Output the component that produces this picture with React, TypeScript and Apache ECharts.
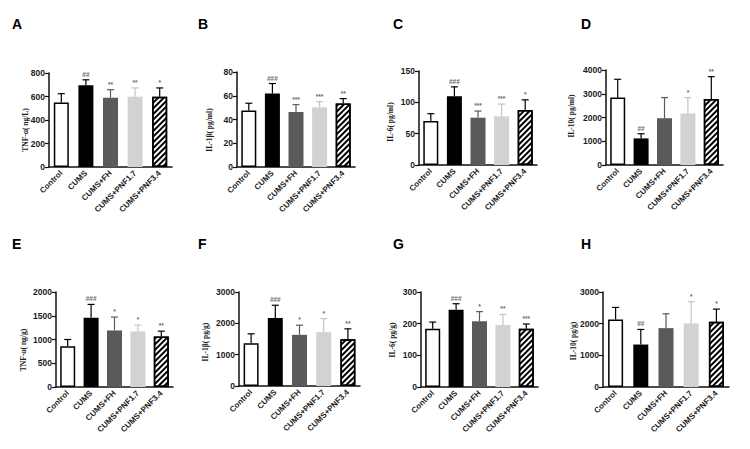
import React, { useEffect, useRef } from "react";
import * as echarts from "echarts";

const categories = ["Control", "CUMS", "CUMS+FH", "CUMS+PNF1.7", "CUMS+PNF3.4"];

const panelLetters = ["A", "B", "C", "D", "E", "F", "G", "H"];
const axisNames = [
  "TNF-α( ng/L)",
  "IL-1β( pg/ml)",
  "IL-6( pg/ml)",
  "IL-10( pg/ml)",
  "TNF-α( ng/g)",
  "IL-1β( pg/g)",
  "IL-6( pg/g)",
  "IL-10( pg/g)",
];
const axisMax = [800, 80, 150, 4000, 2000, 3000, 300, 3000];
const axisStep = [200, 20, 50, 1000, 500, 1000, 100, 1000];

const meanA = [548, 695, 590, 598, 598];
const sdA = [76, 47, 68, 75, 75];
const sigA = ["", "##", "**", "**", "*"];

const meanB = [47.5, 62, 46.3, 50.3, 53.4];
const sdB = [6.2, 8.3, 6.2, 4.7, 4.2];
const sigB = ["", "###", "***", "***", "**"];

const meanC = [70.3, 109.9, 75.5, 77.7, 87.7];
const sdC = [11.6, 14.8, 10.6, 19.5, 16.3];
const sigC = ["", "###", "***", "***", "*"];

const meanD = [2840, 1120, 1970, 2170, 2780];
const sdD = [770, 195, 870, 670, 940];
const sigD = ["", "##", "", "*", "**"];

const meanE = [860, 1458, 1190, 1169, 1063];
const sdE = [140, 281, 282, 134, 113];
const sigE = ["", "###", "*", "*", "**"];

const meanF = [1368, 2174, 1633, 1718, 1495];
const sdF = [297, 403, 308, 435, 329];
const sigF = ["", "###", "*", "*", "**"];

const meanG = [184, 244, 208, 196, 184];
const sdG = [21, 19, 30, 33, 15];
const sigG = ["", "###", "*", "**", "***"];

const meanH = [2133, 1341, 1859, 2007, 2059];
const sdH = [380, 476, 454, 686, 401];
const sigH = ["", "##", "", "*", "*"];

const means = [meanA, meanB, meanC, meanD, meanE, meanF, meanG, meanH];
const sds = [sdA, sdB, sdC, sdD, sdE, sdF, sdG, sdH];
const sigs = [sigA, sigB, sigC, sigD, sigE, sigF, sigG, sigH];

// layout: [left, top, width, height]
const grids = [
  [49, 73, 123, 94],
  [237, 72, 118, 95],
  [419, 71, 118, 94],
  [606, 70, 117, 95],
  [56, 292, 117, 95],
  [239, 292, 121, 94],
  [421, 292, 117, 95],
  [603, 292, 126, 95],
];
// centres of the rotated y-axis titles
const namePos = [
  [25, 130],
  [209, 130],
  [390, 122],
  [571, 116],
  [23, 350],
  [205, 342],
  [392, 340],
  [573, 341],
];
const letterPos = [
  [12, 24],
  [198, 24],
  [393, 24],
  [581, 24],
  [12, 244],
  [198, 244],
  [393, 244],
  [581, 244],
];

const fillColors = ["#ffffff", "#000000", "#5a5a5a", "#d2d2d2", "#ffffff"];
const errColors = ["#000000", "#000000", "#5a5a5a", "#c4c4c4", "#000000"];

export default function App() {
  const ref = useRef<HTMLDivElement>(null);

  useEffect(() => {
    if (!ref.current) return;
    const chart = echarts.init(ref.current, null, { renderer: "svg" });

    const grid: any[] = [];
    const xAxis: any[] = [];
    const yAxis: any[] = [];
    const series: any[] = [];

    grids.forEach((g, i) => {
      grid.push({ left: g[0], top: g[1], width: g[2], height: g[3], containLabel: false });
      xAxis.push({
        type: "category",
        gridIndex: i,
        data: categories,
        boundaryGap: true,
        axisLine: { lineStyle: { color: "#111", width: 1.5 } },
        axisTick: { alignWithLabel: true, length: 3, lineStyle: { color: "#111", width: 1.2 } },
        axisLabel: {
          rotate: 45,
          interval: 0,
          margin: 5,
          fontSize: 8,
          fontWeight: "bold",
          fontFamily: "Liberation Sans, Arial, sans-serif",
          color: "#1a1a1a",
        },
      });
      yAxis.push({
        type: "value",
        gridIndex: i,
        min: 0,
        max: axisMax[i],
        interval: axisStep[i],
        splitLine: { show: false },
        axisLine: { show: true, lineStyle: { color: "#111", width: 1.5 } },
        axisTick: { show: true, length: 4, lineStyle: { color: "#111", width: 1.2 } },
        axisLabel: {
          fontSize: 8.5,
          fontWeight: "bold",
          fontFamily: "Liberation Sans, Arial, sans-serif",
          color: "#1a1a1a",
          margin: 4,
          formatter: (v: number) => String(v),
        },
      });

      const mean = means[i];
      const sd = sds[i];
      const sig = sigs[i];

      series.push({
        type: "bar",
        xAxisIndex: i,
        yAxisIndex: i,
        barWidth: 15,
        z: 2,
        data: mean.map((v, k) => {
          const item: any = {
            value: v,
            itemStyle: {
              color: fillColors[k],
              borderColor: k === 0 || k === 4 ? "#000" : fillColors[k],
              borderWidth: k === 0 || k === 4 ? 1.5 : 0,
            },
          };
          if (k === 4) {
            item.itemStyle.decal = {
              symbol: "rect",
              symbolSize: 1,
              color: "#000",
              backgroundColor: "#fff",
              dashArrayX: [1, 0],
              dashArrayY: [1.5, 2],
              rotation: -Math.PI / 4,
            };
          }
          return item;
        }),
      });

      series.push({
        type: "custom",
        xAxisIndex: i,
        yAxisIndex: i,
        z: 3,
        clip: false,
        data: mean.map((v, k) => [k, v, sd[k]]),
        encode: { x: 0, y: 1 },
        renderItem: (params: any, api: any) => {
          const k = api.value(0);
          const m = api.value(1);
          const s = api.value(2);
          const base = api.coord([k, m]);
          const top = api.coord([k, m + s]);
          const color = errColors[params.dataIndex];
          return {
            type: "group",
            children: [
              {
                type: "line",
                shape: { x1: base[0], y1: base[1], x2: top[0], y2: top[1] },
                style: { stroke: color, lineWidth: 1.2 },
              },
              {
                type: "line",
                shape: { x1: top[0] - 3.5, y1: top[1], x2: top[0] + 3.5, y2: top[1] },
                style: { stroke: color, lineWidth: 1.2 },
              },
              {
                type: "text",
                x: top[0],
                y: top[1] - 2,
                style: {
                  text: sig[params.dataIndex],
                  fill: "#6a6a6a",
                  font: "bold 6.5px Liberation Sans, Arial, sans-serif",
                  align: "center",
                  verticalAlign: "bottom",
                },
              },
            ],
          };
        },
      });
    });

    const graphic: any[] = panelLetters.map((t, i) => ({
      type: "text",
      left: letterPos[i][0],
      top: letterPos[i][1] - 7,
      style: {
        text: t,
        fill: "#000",
        font: "bold 14px Liberation Sans, Arial, sans-serif",
      },
    }));
    axisNames.forEach((t, i) => {
      graphic.push({
        type: "text",
        x: namePos[i][0],
        y: namePos[i][1],
        rotation: Math.PI / 2,
        style: {
          text: t,
          fill: "#1a1a1a",
          font: "bold 7.5px Liberation Serif, Times New Roman, serif",
          align: "center",
          verticalAlign: "middle",
        },
      });
    });

    chart.setOption({
      animation: false,
      backgroundColor: "#fff",
      grid,
      xAxis,
      yAxis,
      series,
      graphic,
    });

    return () => chart.dispose();
  }, []);

  return (
    <div
      ref={ref}
      style={{ position: "fixed", left: 0, top: 0, width: 750, height: 449, background: "#fff" }}
    />
  );
}
